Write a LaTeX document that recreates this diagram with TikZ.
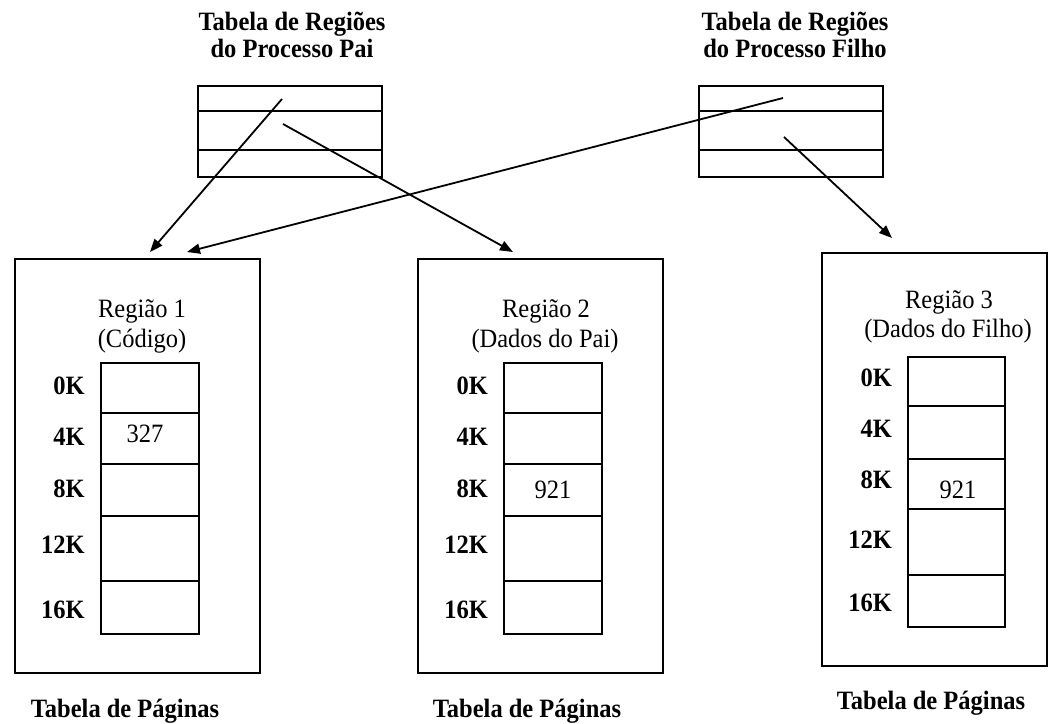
\documentclass[tikz,border=0pt]{standalone}
\usepackage{fontspec}
\usepackage{graphicx}
\setmainfont{Liberation Serif}
\usetikzlibrary{arrows.meta}
% slightly taller glyphs, as in the printed tables
\newcommand\tallt[1]{\scalebox{1}[1.08]{#1}}
\begin{document}
\begin{tikzpicture}[x=1pt,y=-1pt,
  txt/.style={inner sep=0pt, font=\fontsize{24.5}{27}\selectfont},
  btxt/.style={inner sep=0pt, font=\fontsize{24.5}{27}\selectfont\bfseries},
  frame/.style={draw, line width=1.8pt, inner sep=0pt, anchor=north west},
  rule/.style={line width=1.8pt},
  ptr/.style={-{Triangle[length=13pt,width=10pt]}, line width=1.8pt}
]
\useasboundingbox (0,0) rectangle (1051,723);

% ---- region tables of the two processes ----
\node[btxt, anchor=base] (tpai1) at (292,30) {\tallt{Tabela de Regiões}};
\node[btxt, anchor=base] (tpai2) at (292,57) {\tallt{do Processo Pai}};
\node[frame, minimum width=184, minimum height=91] (rpai) at (197,85) {};
\draw[rule] (197,111) -- (381,111);
\draw[rule] (197,150) -- (381,150);

\node[btxt, anchor=base] (tfil1) at (795,30) {\tallt{Tabela de Regiões}};
\node[btxt, anchor=base] (tfil2) at (795,57) {\tallt{do Processo Filho}};
\node[frame, minimum width=184, minimum height=91] (rfil) at (698,85) {};
\draw[rule] (698,111) -- (882,111);
\draw[rule] (698,150) -- (882,150);

% ---- page table 1 ----
\node[frame, minimum width=245, minimum height=414] (pt1) at (14,258) {};
\node[txt, anchor=base] (r1a) at (142,317) {\tallt{Região 1}};
\node[txt, anchor=base] (r1b) at (142,347) {\tallt{(Código)}};
\node[frame, minimum width=98, minimum height=271] (c1) at (100,362) {};
\foreach \y in {413,464,516,581} \draw[rule] (100,\y) -- (198,\y);
\node[btxt, anchor=base east] (k10) at (85,394) {\tallt{0K}};
\node[btxt, anchor=base east] (k14) at (85,445) {\tallt{4K}};
\node[btxt, anchor=base east] (k18) at (85,497) {\tallt{8K}};
\node[btxt, anchor=base east] (k112) at (85,553) {\tallt{12K}};
\node[btxt, anchor=base east] (k116) at (85,618) {\tallt{16K}};
\node[txt, anchor=base] (v1) at (145,442) {\tallt{327}};
\node[btxt, anchor=base] (lb1) at (125,717) {\tallt{Tabela de Páginas}};

% ---- page table 2 ----
\node[frame, minimum width=245, minimum height=414] (pt2) at (417,258) {};
\node[txt, anchor=base] (r2a) at (546,317) {\tallt{Região 2}};
\node[txt, anchor=base] (r2b) at (545,347) {\tallt{(Dados do Pai)}};
\node[frame, minimum width=98, minimum height=271] (c2) at (503,362) {};
\foreach \y in {413,464,516,581} \draw[rule] (503,\y) -- (601,\y);
\node[btxt, anchor=base east] (k20) at (488,394) {\tallt{0K}};
\node[btxt, anchor=base east] (k24) at (488,445) {\tallt{4K}};
\node[btxt, anchor=base east] (k28) at (488,497) {\tallt{8K}};
\node[btxt, anchor=base east] (k212) at (488,553) {\tallt{12K}};
\node[btxt, anchor=base east] (k216) at (488,618) {\tallt{16K}};
\node[txt, anchor=base] (v2) at (553,498) {\tallt{921}};
\node[btxt, anchor=base] (lb2) at (527,717) {\tallt{Tabela de Páginas}};

% ---- page table 3 ----
\node[frame, minimum width=225, minimum height=413] (pt3) at (821,252) {};
\node[txt, anchor=base] (r3a) at (949,308) {\tallt{Região 3}};
\node[txt, anchor=base] (r3b) at (948,337) {\tallt{(Dados do Filho)}};
\node[frame, minimum width=97, minimum height=270] (c3) at (907,356) {};
\foreach \y in {406,459,509,575} \draw[rule] (907,\y) -- (1004,\y);
\node[btxt, anchor=base east] (k30) at (892,386) {\tallt{0K}};
\node[btxt, anchor=base east] (k34) at (892,437) {\tallt{4K}};
\node[btxt, anchor=base east] (k38) at (892,488) {\tallt{8K}};
\node[btxt, anchor=base east] (k312) at (892,548) {\tallt{12K}};
\node[btxt, anchor=base east] (k316) at (892,611) {\tallt{16K}};
\node[txt, anchor=base] (v3) at (958,498) {\tallt{921}};
\node[btxt, anchor=base] (lb3) at (931,709) {\tallt{Tabela de Páginas}};

% ---- region pointers ----
\coordinate (s1) at (282,99);
\coordinate (s2) at (283,124);
\coordinate (s3) at (783,98);
\coordinate (s4) at (784,137);
\coordinate (e1) at (150,252);
\coordinate (e2) at (513,252);
\coordinate (e3) at (187,252);
\coordinate (e4) at (892,238);
\draw[ptr] (s1) -- (e1);
\draw[ptr] (s2) -- (e2);
\draw[ptr] (s3) -- (e3);
\draw[ptr] (s4) -- (e4);
\end{tikzpicture}
\end{document}
